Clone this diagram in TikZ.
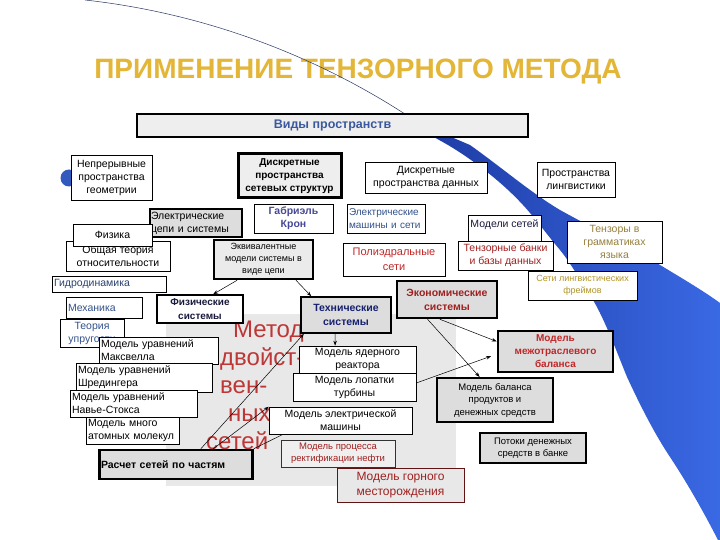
\documentclass[tikz,border=0pt]{standalone}
\usepackage{fontspec}
\setmainfont{Liberation Sans}
\usetikzlibrary{arrows.meta,calc}
\definecolor{titlegold}{RGB}{228,182,56}
\definecolor{vidblue}{RGB}{58,88,158}
\definecolor{bandblueA}{RGB}{30,60,165}
\definecolor{bandblueB}{RGB}{58,105,228}
\definecolor{circblue}{RGB}{50,90,190}
\definecolor{boxgray}{RGB}{221,221,221}
\definecolor{lightgraybox}{RGB}{238,238,238}
\definecolor{panelgray}{RGB}{232,232,232}
\definecolor{darkred}{RGB}{160,32,32}
\definecolor{brightred}{RGB}{192,40,40}
\definecolor{metred}{RGB}{190,55,55}
\definecolor{olivetext}{RGB}{150,128,62}
\definecolor{goldtext}{RGB}{178,148,40}
\definecolor{navytext}{RGB}{22,32,110}
\definecolor{slatetext}{RGB}{52,82,140}
\definecolor{gabcol}{RGB}{72,72,150}
\definecolor{linenavy}{RGB}{40,55,100}
\definecolor{fstext}{RGB}{25,25,60}
\tikzset{
  bx/.style={draw=black, line width=0.6pt, fill=white, inner sep=1.5pt, align=center,
    font=\fontsize{10.5}{13}\selectfont},
  gbx/.style={bx, fill=boxgray, line width=2pt},
  conn/.style={draw=black, line width=0.5pt, -{Stealth[length=5pt,width=3.5pt]}},
  plainline/.style={draw=black, line width=0.5pt},
  bigtxt/.style={text=metred, font=\fontsize{24}{28}\selectfont, anchor=base west, inner sep=0pt},
}
\begin{document}
\begin{tikzpicture}[x=1pt,y=-1pt]
\useasboundingbox (0,0) rectangle (720,540);
\fill[white] (0,0) rectangle (720,540);

% decorative band
\shade[left color=bandblueA, right color=bandblueB]
  (430,128) -- (470,145) .. controls (505,170) and (530,192) .. (560,210)
  .. controls (600,232) and (640,252) .. (660,265)
  .. controls (685,280) and (705,292) .. (720,303) -- (720,540) -- (718,540)
  .. controls (700,505) and (685,480) .. (672,460)
  .. controls (655,435) and (640,405) .. (627,377)
  .. controls (618,355) and (605,320) .. (593,300)
  .. controls (580,280) and (570,262) .. (560,250)
  .. controls (545,232) and (535,218) .. (523,205)
  .. controls (500,180) and (470,158) .. (448,145) -- (425,132) -- cycle;

% title
\node[font=\fontsize{28}{32}\selectfont\bfseries, text=titlegold, inner sep=0pt] (title) at (358,72) {ПРИМЕНЕНИЕ ТЕНЗОРНОГО МЕТОДА};
\coordinate (lstart) at (85,0);
\coordinate (lend) at (408,116);
\draw[linenavy, line width=0.5pt] (lstart) .. controls (220,15) and (330,65) .. (lend);

% gray panel
\fill[panelgray] (166,314) rectangle (456,486);

% big text
\node[bigtxt] (m1) at (233,337) {Метод};
\node[bigtxt] (m2) at (220,365) {двойст-};
\node[bigtxt] (m3) at (220,393) {вен-};
\node[bigtxt] (m4) at (228,421) {ных};
\node[bigtxt] (m5) at (206,449) {сетей};

% top box
\node[bx, fill=lightgraybox, line width=2pt, minimum width=391, minimum height=23,
  font=\fontsize{12.5}{15}\selectfont\bfseries, text=vidblue] (vid) at (332.5,125.5) {Виды пространств};

% circle
\fill[circblue] (69,178) circle (8.5);

% row of space kinds
\node[bx, minimum width=81, minimum height=45] (nepr) at (111.5,177.5) {Непрерывные\\пространства\\геометрии};
\node[bx, fill=lightgraybox, line width=3pt, minimum width=103, minimum height=44,
  font=\fontsize{10}{13}\selectfont\bfseries] (dsk) at (289.5,176) {Дискретные\\пространства\\сетевых структур};
\node[bx, minimum width=122, minimum height=31] (dd) at (426,177.5) {Дискретные\\пространства данных};
\node[bx, minimum width=78, minimum height=35] (pl) at (576,179.5) {Пространства\\лингвистики};

% physics cluster
\node[gbx, align=left, text width=89, minimum height=28] (elc) at (195.5,223) {Электрические\\цепи и системы};
\node[bx, minimum width=104, minimum height=30] (ob) at (118,256) {Общая теория\\относительности};
\node[bx, minimum width=79, minimum height=22] (fiz) at (112.5,235) {Физика};
\node[bx, minimum width=79, minimum height=29, text=gabcol,
  font=\fontsize{10.5}{13}\selectfont\bfseries] (gab) at (293.5,218.5) {Габриэль\\Крон};
\node[gbx, fill=lightgraybox!85!boxgray, line width=2.5pt, minimum width=99, minimum height=39,
  font=\fontsize{9}{12}\selectfont] (ekv) at (263.5,259.5) {Эквивалентные\\модели системы в\\виде цепи};
\node[bx, align=left, text width=75, minimum height=29, text=slatetext,
  font=\fontsize{10}{13}\selectfont] (ems) at (386.5,218.5) {Электрические\\машины и сети};
\node[bx, minimum width=73, minimum height=27, text depth=9pt, text=fstext] (ms) at (504.5,228.5) {Модели сетей};
\node[bx, minimum width=95, minimum height=29, text=darkred] (tb) at (505.5,255.5) {Тензорные банки\\и базы данных};
\node[bx, minimum width=102, minimum height=33, text=brightred,
  font=\fontsize{11}{15}\selectfont] (poly) at (394,259.5) {Полиэдральные\\сети};
\node[bx, minimum width=95, minimum height=42, text=olivetext] (tg) at (614.5,242) {Тензоры в\\грамматиках\\языка};
\node[bx, minimum width=109, minimum height=29, text=goldtext,
  font=\fontsize{9}{12}\selectfont] (slf) at (582.5,285.5) {Сети лингвистических\\фреймов};

\node[bx, align=left, text width=111, minimum height=16, text=slatetext!80!black,
  font=\fontsize{10.5}{12}\selectfont] (gid) at (109.5,284) {Гидродинамика};
\node[bx, align=left, text width=73, minimum height=21, text=slatetext,
  font=\fontsize{10.5}{12}\selectfont] (mex) at (104.5,307.5) {Механика};
\node[bx, minimum width=64, minimum height=28, text=slatetext] (teo) at (92,333) {Теория\\упругости};

\node[bx, line width=1.5pt, minimum width=86, minimum height=28, text=fstext,
  font=\fontsize{10}{14}\selectfont\bfseries] (fs) at (200,309) {Физические\\системы};
\node[gbx, line width=1.5pt, minimum width=90, minimum height=36, text=navytext,
  font=\fontsize{10.5}{14}\selectfont\bfseries] (ts) at (346,315) {Технические\\системы};
\node[gbx, line width=2.5pt, minimum width=100, minimum height=37, text=darkred,
  font=\fontsize{10.5}{14}\selectfont\bfseries] (es) at (447,299.5) {Экономические\\системы};
\node[gbx, line width=2.5pt, minimum width=115, minimum height=41, text=brightred,
  font=\fontsize{10}{13}\selectfont\bfseries] (mmb) at (555.5,351.5) {Модель\\межотраслевого\\баланса};

% physical models
\node[bx, align=left, text width=116, minimum height=27] (mx) at (159,350.5) {Модель уравнений\\Максвелла};
\node[bx, align=left, text width=133, minimum height=29] (shr) at (144.5,377.5) {Модель уравнений\\Шредингера};
\node[bx, align=left, text width=124, minimum height=27] (nav) at (134,403.5) {Модель уравнений\\Навье-Стокса};
\node[bx, align=left, text width=90, minimum height=27] (mol) at (133,430.5) {Модель много\\атомных молекул};
\node[gbx, line width=2.5pt, align=left, text width=150, minimum height=29,
  font=\fontsize{10.5}{13}\selectfont\bfseries] (rs) at (176,464.5) {Расчет сетей по частям};

% technical models
\node[bx, minimum width=117, minimum height=27] (yad) at (357.5,359.5) {Модель ядерного\\реактора};
\node[bx, minimum width=123, minimum height=28] (lop) at (354.5,387) {Модель лопатки\\турбины};
\node[bx, minimum width=143, minimum height=27] (elm) at (340.5,420.5) {Модель электрической\\машины};
\node[bx, fill=panelgray!70!white, draw=black!80, minimum width=114, minimum height=27, text=darkred,
  font=\fontsize{9.5}{12}\selectfont] (rek) at (338,453.5) {Модель процесса\\ректификации нефти};
\node[bx, fill=panelgray, draw=darkred!60!black, minimum width=127, minimum height=34, text=darkred,
  font=\fontsize{12}{15}\selectfont] (gor) at (400.5,485) {Модель горного\\месторождения};

% economic models
\node[gbx, line width=2pt, minimum width=116, minimum height=44,
  font=\fontsize{9.5}{12.5}\selectfont] (mbp) at (495,400) {Модель баланса\\продуктов и\\денежных средств};
\node[gbx, line width=2pt, minimum width=106, minimum height=30,
  font=\fontsize{9.5}{12.5}\selectfont] (pdb) at (533,448) {Потоки денежных\\средств в банке};

% connectors
\draw[conn] ($(ekv.south west)!0.24!(ekv.south east)$) -- ($(fs.north west)!0.65!(fs.north east)$);
\draw[conn] ($(ekv.south west)!0.82!(ekv.south east)$) -- ($(ts.north west)!0.12!(ts.north east)$);
\draw[conn] ($(ts.south west)!0.38!(ts.south east)$) -- ($(yad.north west)!0.31!(yad.north east)$);
\draw[conn] ($(rs.north west)!0.66!(rs.north east)$) -- ($(ts.south west)!0.04!(ts.south east)$);
\draw[conn] ($(rs.north west)!0.74!(rs.north east)$) -- (elm.north west);
\draw[plainline] (rs.north east) -- ($(elm.south west)!0.1!(elm.south east)$);
\draw[conn] ($(es.south west)!0.31!(es.south east)$) -- ($(mbp.north west)!0.37!(mbp.north east)$);
\draw[conn] ($(es.south west)!0.43!(es.south east)$) -- ($(mmb.north west)!0.27!(mmb.south west)$);
\draw[conn, shorten >=6pt] ($(lop.north east)!0.36!(lop.south east)$) -- ($(mmb.north west)!0.56!(mmb.south west)$);
\end{tikzpicture}
\end{document}
